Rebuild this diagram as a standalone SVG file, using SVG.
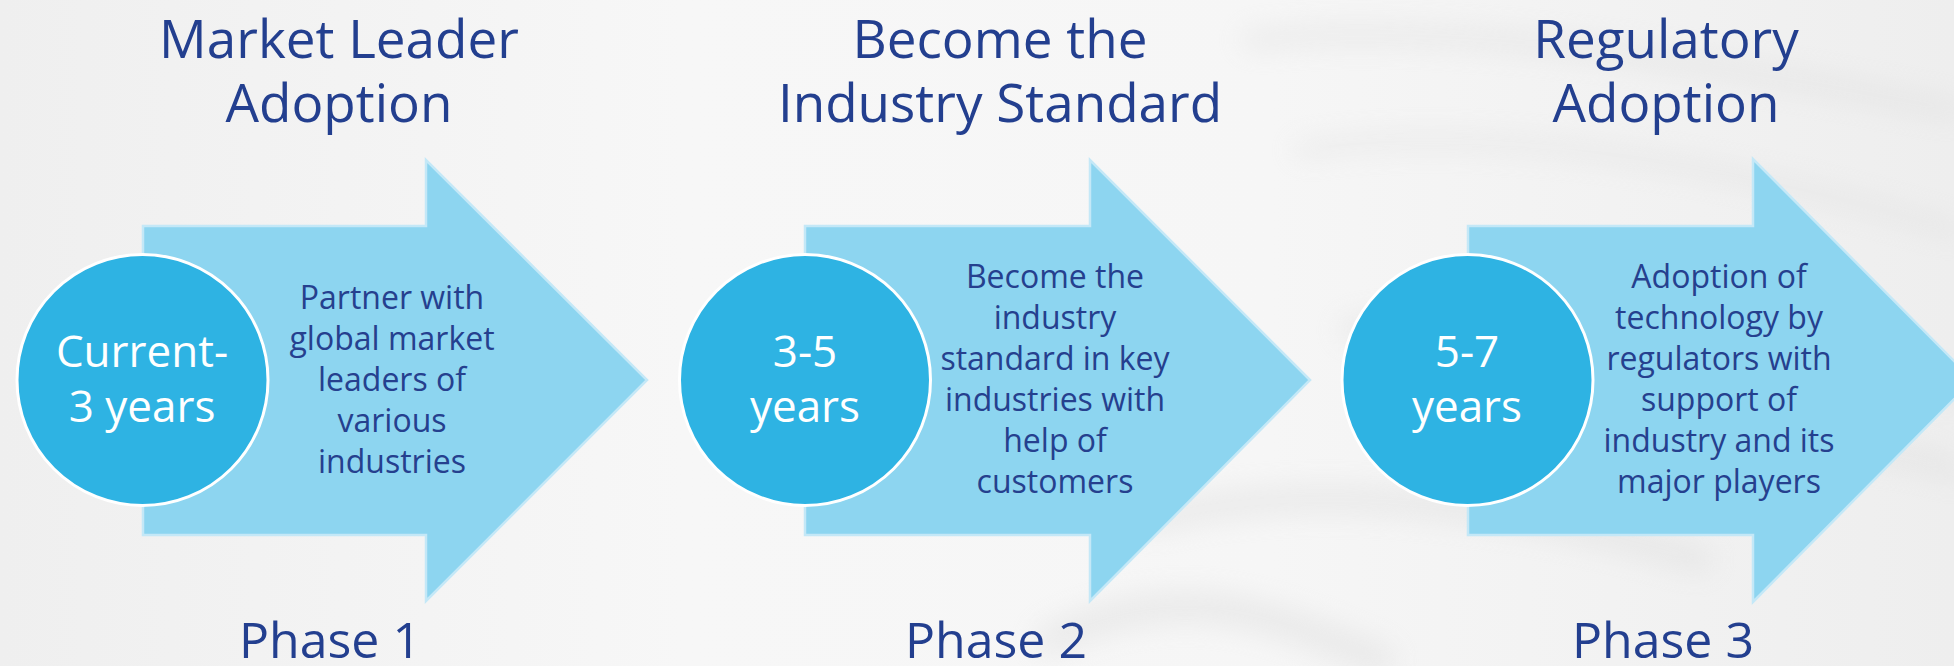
<svg xmlns="http://www.w3.org/2000/svg" width="1954" height="666" viewBox="0 0 1954 666">
  <defs>
    <linearGradient id="bg" x1="0" y1="0" x2="1" y2="0">
      <stop offset="0" stop-color="#efefef"/>
      <stop offset="0.35" stop-color="#f7f7f7"/>
      <stop offset="0.65" stop-color="#f6f6f6"/>
      <stop offset="1" stop-color="#eeeeee"/>
    </linearGradient>
    <filter id="blur" x="-20%" y="-50%" width="140%" height="200%">
      <feGaussianBlur stdDeviation="14"/>
    </filter>
    <style>
      .title { font-family: "Open Sans", "Noto Sans", sans-serif; font-size: 53px; fill: #233f8f; text-anchor: middle; }
      .phase { font-family: "Open Sans", "Noto Sans", sans-serif; font-size: 50px; fill: #233f8f; text-anchor: middle; }
      .body { font-family: "Open Sans", "Noto Sans", sans-serif; font-size: 32px; fill: #25408e; text-anchor: middle; }
      .circ-text { font-family: "Open Sans", "Noto Sans", sans-serif; font-size: 44px; fill: #ffffff; text-anchor: middle; }
      .arrow { fill: #8dd5f0; stroke: #c4e8f7; stroke-width: 2.5; stroke-linejoin: miter; }
      .circle { fill: #2eb3e3; stroke: #ffffff; stroke-width: 3; }
      .band { fill: none; stroke: #dadada; stroke-linecap: round; }
    </style>
  </defs>

  <!-- background -->
  <rect x="0" y="0" width="1954" height="666" fill="url(#bg)"/>
  <g filter="url(#blur)" opacity="0.45">
    <path class="band" d="M1250,40 C1450,20 1700,60 1954,110" stroke-width="18"/>
    <path class="band" d="M1300,150 C1500,120 1750,170 1954,230" stroke-width="14"/>
    <path class="band" d="M1350,330 C1550,300 1750,340 1954,390" stroke-width="22"/>
    <path class="band" d="M1150,520 C1300,480 1500,500 1700,560" stroke-width="26"/>
    <path class="band" d="M1050,640 C1180,580 1260,610 1380,660" stroke-width="30"/>
    <path class="band" d="M1700,460 C1800,440 1900,450 1954,470" stroke-width="20"/>
  </g>

  <!-- connectors (none; arrows are nodes) -->
  <g id="connectors"></g>

  <!-- Phase 1 -->
  <g id="phase1">
    <text class="title" x="339" y="58">Market Leader</text>
    <text class="title" x="339" y="122">Adoption</text>
    <polygon class="arrow" points="143,226 426,226 426,160 647,380 426,601 426,535 143,535"/>
    <circle class="circle" cx="142.5" cy="380" r="125.5"/>
    <text class="circ-text" x="142" y="367">Current-</text>
    <text class="circ-text" x="142" y="422">3 years</text>
    <text class="body" x="392" y="309">Partner with</text>
    <text class="body" x="392" y="350">global market</text>
    <text class="body" x="392" y="391">leaders of</text>
    <text class="body" x="392" y="432">various</text>
    <text class="body" x="392" y="473">industries</text>
    <text class="phase" x="330" y="658">Phase 1</text>
  </g>

  <!-- Phase 2 -->
  <g id="phase2">
    <text class="title" x="1000" y="58">Become the</text>
    <text class="title" x="1000" y="122">Industry Standard</text>
    <polygon class="arrow" points="805,226 1090,226 1090,160 1310,380 1090,601 1090,535 805,535"/>
    <circle class="circle" cx="805" cy="380" r="125.5"/>
    <text class="circ-text" x="805" y="367">3-5</text>
    <text class="circ-text" x="805" y="422">years</text>
    <text class="body" x="1055" y="288">Become the</text>
    <text class="body" x="1055" y="329">industry</text>
    <text class="body" x="1055" y="370">standard in key</text>
    <text class="body" x="1055" y="411">industries with</text>
    <text class="body" x="1055" y="452">help of</text>
    <text class="body" x="1055" y="493">customers</text>
    <text class="phase" x="996" y="658">Phase 2</text>
  </g>

  <!-- Phase 3 -->
  <g id="phase3">
    <text class="title" x="1666" y="58">Regulatory</text>
    <text class="title" x="1666" y="122">Adoption</text>
    <polygon class="arrow" points="1468,226 1753,226 1753,159 1973,380 1753,602 1753,535 1468,535"/>
    <circle class="circle" cx="1467.5" cy="380" r="125.5"/>
    <text class="circ-text" x="1467" y="367">5-7</text>
    <text class="circ-text" x="1467" y="422">years</text>
    <text class="body" x="1719" y="288">Adoption of</text>
    <text class="body" x="1719" y="329">technology by</text>
    <text class="body" x="1719" y="370">regulators with</text>
    <text class="body" x="1719" y="411">support of</text>
    <text class="body" x="1719" y="452">industry and its</text>
    <text class="body" x="1719" y="493">major players</text>
    <text class="phase" x="1663" y="658">Phase 3</text>
  </g>
</svg>
